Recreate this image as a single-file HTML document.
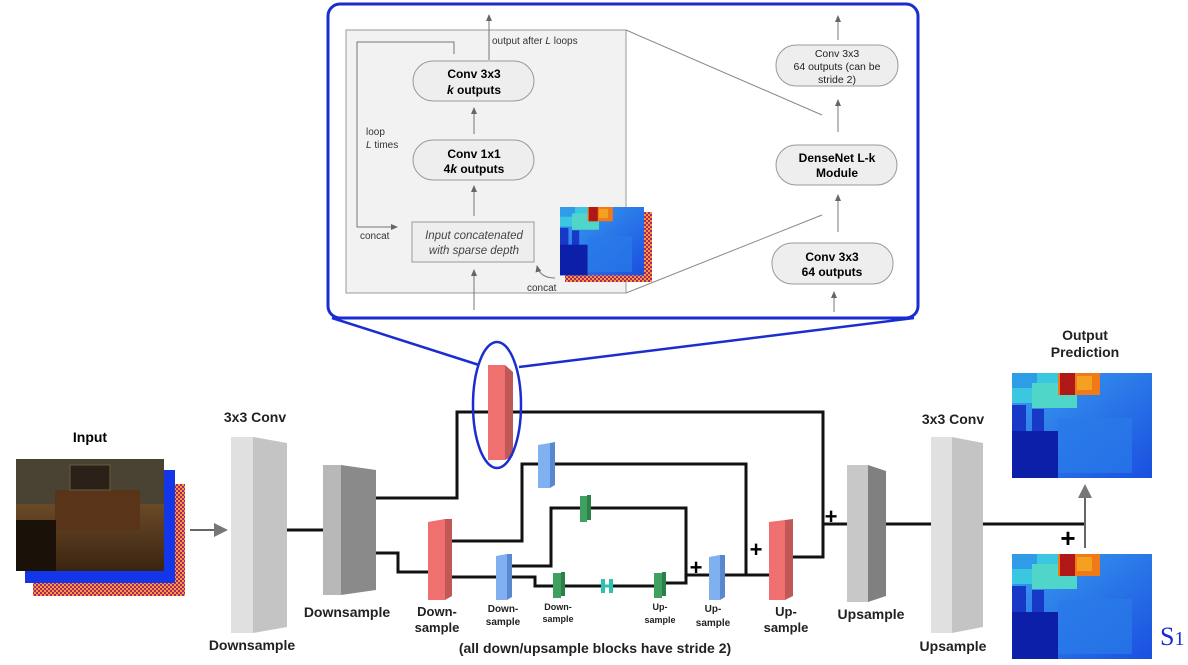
<!DOCTYPE html>
<html><head><meta charset="utf-8"><style>
html,body{margin:0;padding:0;background:#fff;}
svg{display:block;font-family:"Liberation Sans",Arial,sans-serif;}
.b{font-weight:bold;}
</style></head><body>
<svg width="1188" height="665" viewBox="0 0 1188 665" xmlns="http://www.w3.org/2000/svg">
<defs>
<linearGradient id="bg" x1="0" y1="0" x2="1" y2="1"><stop offset="0" stop-color="#3aa0f0"/><stop offset="1" stop-color="#1a4fe0"/></linearGradient>
<g id="depth">
<rect x="0" y="0" width="140" height="105" fill="url(#bg)"/>
<rect x="0" y="0" width="60" height="30" fill="#3cc7e0"/>
<rect x="0" y="0" width="25" height="15" fill="#2f9ce8"/>
<rect x="20" y="10" width="45" height="25" fill="#4fd6c8"/>
<rect x="46" y="0" width="42" height="22" fill="#f07a18"/>
<rect x="48" y="0" width="15" height="22" fill="#b01818"/>
<rect x="65" y="3" width="15" height="14" fill="#f4a020"/>
<rect x="0" y="32" width="14" height="73" fill="#1838c8"/>
<rect x="20" y="36" width="12" height="69" fill="#1838c8"/>
<rect x="0" y="58" width="46" height="47" fill="#0c1fa8"/>
<rect x="46" y="45" width="74" height="55" fill="#2a7ae8" opacity="0.7"/>
</g>
<pattern id="chk" width="4" height="4" patternUnits="userSpaceOnUse"><rect width="4" height="4" fill="#f0a030"/><rect width="2" height="2" fill="#b02070"/><rect x="2" y="2" width="2" height="2" fill="#b02070"/></pattern>
<linearGradient id="room" x1="0" y1="0" x2="0" y2="1"><stop offset="0" stop-color="#5a4a38"/><stop offset="0.4" stop-color="#6a4a28"/><stop offset="1" stop-color="#3a2410"/></linearGradient>
<marker id="ah" markerWidth="8" markerHeight="8" refX="6" refY="4" orient="auto" markerUnits="userSpaceOnUse"><path d="M0,1 L7,4 L0,7 Z" fill="#666"/></marker>
<marker id="ahb" markerWidth="16" markerHeight="16" refX="12" refY="8" orient="auto" markerUnits="userSpaceOnUse"><path d="M0,1 L14,8 L0,15 Z" fill="#777"/></marker>
</defs>

<rect x="328" y="4" width="590" height="314" rx="12" fill="#fff" stroke="#1a2ed0" stroke-width="3"/>
<rect x="346" y="30" width="280" height="263" fill="#f2f2f2" stroke="#999" stroke-width="1"/>
<line x1="626" y1="30" x2="822" y2="115" stroke="#888" stroke-width="1"/>
<line x1="626" y1="293" x2="822" y2="215" stroke="#888" stroke-width="1"/>
<g stroke="#777" stroke-width="1" fill="none">
<line x1="489" y1="60" x2="489" y2="15" marker-end="url(#ah)"/>
<line x1="474" y1="134" x2="474" y2="108" marker-end="url(#ah)"/>
<line x1="474" y1="216" x2="474" y2="186" marker-end="url(#ah)"/>
<line x1="474" y1="310" x2="474" y2="270" marker-end="url(#ah)"/>
<polyline points="454,54 454,42 357,42 357,227 397,227" marker-end="url(#ah)"/>
<path d="M555,278 Q540,278 537,266" marker-end="url(#ah)"/>
<line x1="838" y1="132" x2="838" y2="100" marker-end="url(#ah)"/>
<line x1="838" y1="40" x2="838" y2="16" marker-end="url(#ah)"/>
<line x1="838" y1="232" x2="838" y2="195" marker-end="url(#ah)"/>
<line x1="834" y1="312" x2="834" y2="292" marker-end="url(#ah)"/>
</g>
<rect x="413" y="61" width="121" height="40" rx="20" fill="#eee" stroke="#999"/>
<text x="474" y="78" font-size="12" text-anchor="middle" class="b">Conv 3x3</text>
<text x="474" y="94" font-size="12" text-anchor="middle" class="b"><tspan font-style="italic">k</tspan> outputs</text>
<rect x="413" y="140" width="121" height="40" rx="20" fill="#eee" stroke="#999"/>
<text x="474" y="158" font-size="12" text-anchor="middle" class="b">Conv 1x1</text>
<text x="474" y="173" font-size="12" text-anchor="middle" class="b">4<tspan font-style="italic">k</tspan> outputs</text>
<rect x="412" y="222" width="122" height="40" fill="#eee" stroke="#999"/>
<text x="474" y="239" font-size="11.5" text-anchor="middle" font-style="italic" fill="#444">Input concatenated</text>
<text x="474" y="254" font-size="11.5" text-anchor="middle" font-style="italic" fill="#444">with sparse depth</text>
<text x="492" y="44" font-size="10" fill="#333">output after <tspan font-style="italic">L</tspan> loops</text>
<text x="366" y="135" font-size="10" fill="#333">loop</text>
<text x="366" y="148" font-size="10" fill="#333"><tspan font-style="italic">L</tspan> times</text>
<text x="360" y="239" font-size="10" fill="#333">concat</text>
<text x="527" y="291" font-size="10" fill="#333">concat</text>
<rect x="565" y="212" width="87" height="70" fill="url(#chk)"/>
<use href="#depth" transform="translate(560,207) scale(0.6,0.65)"/>

<rect x="776" y="45" width="122" height="41" rx="20" fill="#eee" stroke="#999"/>
<text x="837" y="57" font-size="10.5" text-anchor="middle" fill="#222">Conv 3x3</text>
<text x="837" y="70" font-size="10.5" text-anchor="middle" fill="#222">64 outputs (can be</text>
<text x="837" y="83" font-size="10.5" text-anchor="middle" fill="#222">stride 2)</text>
<rect x="776" y="145" width="121" height="40" rx="20" fill="#eee" stroke="#999"/>
<text x="837" y="162" font-size="12" text-anchor="middle" class="b">DenseNet L-k</text>
<text x="837" y="177" font-size="12" text-anchor="middle" class="b">Module</text>
<rect x="772" y="243" width="121" height="41" rx="20" fill="#eee" stroke="#999"/>
<text x="832" y="261" font-size="12" text-anchor="middle" class="b">Conv 3x3</text>
<text x="832" y="276" font-size="12" text-anchor="middle" class="b">64 outputs</text>

<line x1="332" y1="318" x2="479" y2="365" stroke="#1a2ed0" stroke-width="2.5"/>
<line x1="914" y1="318" x2="519" y2="367" stroke="#1a2ed0" stroke-width="2.5"/>

<text x="90" y="442" font-size="14" class="b" text-anchor="middle">Input</text>
<rect x="33" y="484" width="152" height="112" fill="url(#chk)"/>
<rect x="25" y="470" width="150" height="113" fill="#1236e8"/>
<rect x="16" y="459" width="148" height="112" fill="url(#room)"/>
<rect x="16" y="459" width="148" height="45" fill="#4a4232"/>
<rect x="55" y="490" width="85" height="40" fill="#5a3418"/>
<rect x="16" y="520" width="40" height="51" fill="#1a1208"/>
<rect x="70" y="465" width="40" height="25" fill="#2a2218" stroke="#6a5a40"/>
<line x1="190" y1="530" x2="226" y2="530" stroke="#666" stroke-width="2" marker-end="url(#ahb)"/>

<g stroke="#111" stroke-width="3" fill="none">
<line x1="268" y1="530" x2="326" y2="530"/>
<polyline points="361,498 457,498 457,412 500,412"/>
<polyline points="500,412 823,412 823,557 781,557"/>
<polyline points="823,524 855,524"/>
<polyline points="361,553 398,553 398,572 440,572"/>
<polyline points="444,541 522,541 522,464 548,464 746,464 746,575 717,575"/>
<polyline points="444,577 505,577"/>
<polyline points="505,566 551,566 551,508 686,508 686,583 660,583"/>
<polyline points="505,577 535,577 535,586 660,586"/>
<polyline points="686,575 717,575"/>
<polyline points="746,575 781,575"/>
<line x1="875" y1="524" x2="935" y2="524"/>
<line x1="960" y1="524" x2="1085" y2="524"/>
</g>
<line x1="1085" y1="548" x2="1085" y2="486" stroke="#666" stroke-width="2" marker-end="url(#ahb)"/>

<polygon points="231,437 253,437 253,633 231,633" fill="#e0e0e0"/>
<polygon points="253,437 287,443 287,627 253,633" fill="#c4c4c4"/>
<polygon points="323,465 341,465 341,595 323,595" fill="#b8b8b8"/>
<polygon points="341,465 376,470 376,590 341,595" fill="#8a8a8a"/>
<polygon points="847,465 868,465 868,602 847,602" fill="#c8c8c8"/>
<polygon points="868,465 886,471 886,596 868,602" fill="#808080"/>
<polygon points="931,437 952,437 952,633 931,633" fill="#e0e0e0"/>
<polygon points="952,437 983,443 983,627 952,633" fill="#c4c4c4"/>
<polygon points="488,365 505,365 505,460 488,460" fill="#f07070"/>
<polygon points="505,365 513,372 513,456 505,460" fill="#c05858"/>
<polygon points="428,522 445,519 445,600 428,600" fill="#f07070"/>
<polygon points="445,519 452,519 452,596 445,600" fill="#c05858"/>
<polygon points="769,522 785,520 785,600 769,600" fill="#f07070"/>
<polygon points="785,520 793,519 793,596 785,600" fill="#c05858"/>
<polygon points="538,445 550,443 550,488 538,488" fill="#80b0f0"/>
<polygon points="550,443 555,442 555,485 550,488" fill="#5888d0"/>
<polygon points="496,556 507,554 507,600 496,600" fill="#80b0f0"/>
<polygon points="507,554 512,554 512,597 507,600" fill="#5888d0"/>
<polygon points="709,557 720,555 720,600 709,600" fill="#80b0f0"/>
<polygon points="720,555 725,555 725,597 720,600" fill="#5888d0"/>
<rect x="580" y="496" width="7" height="26" fill="#40a060"/><rect x="587" y="495" width="4" height="25" fill="#2d8048"/>
<rect x="553" y="573" width="8" height="25" fill="#40a060"/><rect x="561" y="572" width="4" height="24" fill="#2d8048"/>
<rect x="654" y="573" width="8" height="25" fill="#40a060"/><rect x="662" y="572" width="4" height="24" fill="#2d8048"/>
<rect x="601" y="579" width="4" height="14" fill="#30c0b0"/><rect x="609" y="579" width="4" height="14" fill="#30c0b0"/>
<line x1="601" y1="586" x2="613" y2="586" stroke="#30c0b0" stroke-width="3"/>

<ellipse cx="497" cy="405" rx="24" ry="63" fill="none" stroke="#1a2ed0" stroke-width="2.5"/>

<g font-size="22" class="b" text-anchor="middle">
<text x="831" y="524">+</text><text x="756" y="557">+</text><text x="696" y="575">+</text>
</g>
<text x="1068" y="547" font-size="26" class="b" text-anchor="middle">+</text>

<g class="b" text-anchor="middle" fill="#222">
<text x="255" y="422" font-size="14">3x3 Conv</text>
<text x="252" y="650" font-size="14">Downsample</text>
<text x="347" y="617" font-size="14">Downsample</text>
<text x="437" y="616" font-size="13">Down-</text><text x="437" y="632" font-size="13">sample</text>
<text x="503" y="612" font-size="10">Down-</text><text x="503" y="625" font-size="10">sample</text>
<text x="558" y="610" font-size="9">Down-</text><text x="558" y="622" font-size="9">sample</text>
<text x="660" y="610" font-size="9">Up-</text><text x="660" y="623" font-size="9">sample</text>
<text x="713" y="612" font-size="10">Up-</text><text x="713" y="626" font-size="10">sample</text>
<text x="786" y="616" font-size="13">Up-</text><text x="786" y="632" font-size="13">sample</text>
<text x="595" y="653" font-size="14">(all down/upsample blocks have stride 2)</text>
<text x="871" y="619" font-size="14">Upsample</text>
<text x="953" y="424" font-size="14">3x3 Conv</text>
<text x="953" y="651" font-size="14">Upsample</text>
<text x="1085" y="340" font-size="14">Output</text>
<text x="1085" y="357" font-size="14">Prediction</text>
</g>

<use href="#depth" transform="translate(1012,373) scale(1,1)"/>
<use href="#depth" transform="translate(1012,554) scale(1,1)"/>
<text x="1160" y="645" font-size="26" fill="#1a2ed0" font-family="Liberation Serif, serif">S<tspan font-size="20">1</tspan></text>
</svg>
</body></html>
